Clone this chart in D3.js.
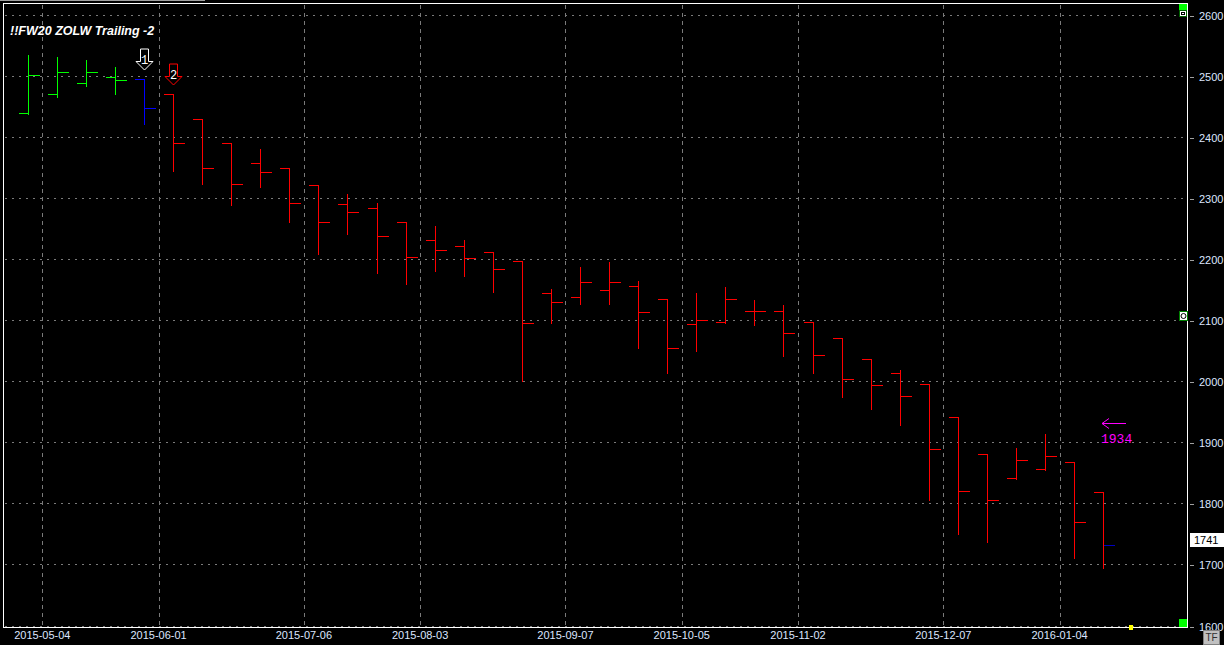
<!DOCTYPE html>
<html>
<head>
<meta charset="utf-8">
<script src="https://cdn.jsdelivr.net/npm/d3@7/dist/d3.min.js"></script>
<style>
  html, body { margin: 0; padding: 0; background: #000; }
  svg { display: block; }
</style>
</head>
<body>
<svg id="chart" width="1224" height="645"></svg>
<script>
// ---------------- DATA ----------------
const title = "!!FW20 ZOLW Trailing -2";
const firstWeek = "2015-04-27";               // week start of first bar
const weekOffsets = d3.range(38);             // 38 consecutive weekly bars
const opens  = [2441,2472,2490,2500,2496,2473,2432,2392,2359,2351,2323,2292,2285,2262,2233,2224,2213,2199,2147,2139,2152,2158,2136,2095,2098,2116,2116,2098,2072,2038,2016,1997,1943,1882,1844,1858,1869,1820];
const highs  = [2538,2535,2530,2518,2496,2473,2432,2392,2384,2351,2323,2310,2295,2262,2258,2235,2213,2199,2155,2191,2199,2168,2136,2148,2158,2136,2128,2098,2072,2038,2021,1997,1943,1882,1894,1917,1869,1820];
const lows   = [2441,2469,2487,2474,2424,2348,2327,2292,2322,2265,2211,2245,2180,2163,2184,2175,2150,2004,2099,2130,2130,2058,2017,2053,2098,2096,2044,2017,1978,1958,1931,1809,1753,1740,1844,1858,1714,1698];
const closes = [2503,2508,2509,2495,2450,2392,2351,2324,2344,2293,2262,2279,2239,2205,2216,2203,2185,2097,2131,2164,2164,2115,2056,2102,2136,2116,2080,2044,2005,1995,1977,1890,1822,1808,1872,1880,1771,1733];
const positions = ["L","L","L","L","X","S","S","S","S","S","S","S","S","S","S","S","S","S","S","S","S","S","S","S","S","S","S","S","S","S","S","S","S","S","S","S","S","S"];
const signalBars = [4, 5];
const signalLabels = ["1", "2"];
const signalKinds = ["exit", "short"];
const dateTicks = ["2015-05-04","2015-06-01","2015-07-06","2015-08-03","2015-09-07","2015-10-05","2015-11-02","2015-12-07","2016-01-04"];
const priceTicks = [1600,1700,1800,1900,2000,2100,2200,2300,2400,2500,2600];
const lastPrice = 1741;
const alertPrice = 1934;

// ---------------- SETUP ----------------
const svg = d3.select("#chart");
const W = 1224, H = 645;
const parse = d3.utcParse("%Y-%m-%d");
const DAY = 86400000;

const x = d3.scaleUtc()
  .domain([parse("2015-05-04"), parse("2016-01-04")])
  .range([42.3, 1059.6]);
const y = d3.scaleLinear().domain([1600, 2600]).range([626.5, 16]);

const plotL = 3.5, plotR = 1187.5, plotT = 3.5, plotB = 627.5;
const colors = { L: "#00ff00", X: "#0000ff", S: "#ff0000" };

svg.append("rect").attr("width", W).attr("height", H).attr("fill", "#000");
// window chrome fragment at top
svg.append("line").attr("x1", 0).attr("x2", 205).attr("y1", 0.5).attr("y2", 0.5)
  .attr("stroke", "#a0a0a0").attr("stroke-width", 1);

const bars = weekOffsets.map(i => {
  const ws = new Date(parse(firstWeek).getTime() + i * 7 * DAY);
  return { i, date: ws, mid: new Date(ws.getTime() + 3.5 * DAY),
    o: opens[i], h: highs[i], l: lows[i], c: closes[i], p: positions[i] };
});

// ---------------- GRID ----------------
const grid = svg.append("g").attr("shape-rendering", "crispEdges");
grid.selectAll("line.h").data(priceTicks).join("line")
  .attr("x1", plotL + 1).attr("x2", plotR)
  .attr("y1", d => Math.round(y(d)) - 0.5).attr("y2", d => Math.round(y(d)) - 0.5)
  .attr("stroke", "#7a7a7a").attr("stroke-dasharray", "2,5");
grid.selectAll("line.v").data(dateTicks).join("line")
  .attr("x1", d => Math.round(x(parse(d))) + 0.5).attr("x2", d => Math.round(x(parse(d))) + 0.5)
  .attr("y1", plotT + 1).attr("y2", plotB)
  .attr("stroke", "#7a7a7a").attr("stroke-dasharray", "4,4");

// ---------------- BARS ----------------
const gb = svg.append("g").attr("shape-rendering", "crispEdges");
const bx = d => Math.round(x(d.mid)) + 0.5;
const py = v => Math.round(y(v)) + 0.5;
gb.selectAll("line.hl").data(bars).join("line")
  .attr("x1", bx).attr("x2", bx)
  .attr("y1", d => py(d.h)).attr("y2", d => py(d.l) + 1)
  .attr("stroke", d => colors[d.p]).attr("stroke-width", 1);
gb.selectAll("line.o").data(bars).join("line")
  .attr("x1", d => bx(d) - 10).attr("x2", bx)
  .attr("y1", d => py(d.o)).attr("y2", d => py(d.o))
  .attr("stroke", d => colors[d.p]).attr("stroke-width", 1);
gb.selectAll("line.c").data(bars).join("line")
  .attr("x1", bx).attr("x2", d => bx(d) + 11)
  .attr("y1", d => py(d.c)).attr("y2", d => py(d.c))
  .attr("stroke", (d, k) => k === bars.length - 1 ? "#0000c0" : colors[d.p]).attr("stroke-width", 1);

// ---------------- SIGNAL ARROWS ----------------
const arrowPath = "M-4,-21 L4,-21 L4,-8.5 L8.5,-8.5 L0,0 L-8.5,-8.5 L-4,-8.5 Z";
signalBars.forEach((bi, k) => {
  const b = bars[bi];
  const g = svg.append("g")
    .attr("transform", `translate(${bx(b)},${Math.round(y(b.h)) - 9})`);
  g.append("path").attr("d", arrowPath)
    .attr("fill", "#000")
    .attr("stroke", signalKinds[k] === "exit" ? "#ffffff" : "#ff0000")
    .attr("stroke-width", 1);
  g.append("text").attr("x", 0).attr("y", -6)
    .attr("text-anchor", "middle")
    .attr("font-family", "Liberation Mono, monospace").attr("font-size", 12)
    .attr("fill", "#fff").text(signalLabels[k]);
});

// ---------------- ALERT ARROW ----------------
const ay = Math.round(y(alertPrice)) + 0.5;
const ag = svg.append("g").attr("stroke", "#ff00ff").attr("fill", "none");
ag.append("line").attr("x1", 1102).attr("x2", 1126).attr("y1", ay).attr("y2", ay);
ag.append("polyline").attr("points", `1109,${ay - 5} 1102,${ay} 1109,${ay + 5}`);
svg.append("text").attr("x", 1101).attr("y", ay + 19)
  .attr("font-family", "Liberation Mono, monospace").attr("font-size", 13)
  .attr("fill", "#ff00ff").text(String(alertPrice));

// ---------------- FRAME ----------------
svg.append("path")
  .attr("d", `M${plotL},${plotT} H${plotR} V${plotB} H${plotL} Z`)
  .attr("fill", "none").attr("stroke", "#ffffff").attr("stroke-width", 1)
  .attr("shape-rendering", "crispEdges");

// ---------------- AXES ----------------
const axisColor = "#dce6ff";
const yAxis = svg.append("g");
yAxis.selectAll("line").data(priceTicks).join("line")
  .attr("x1", 1190).attr("x2", 1194)
  .attr("y1", d => Math.round(y(d)) + 0.5).attr("y2", d => Math.round(y(d)) + 0.5)
  .attr("stroke", "#a0a0a0");
yAxis.selectAll("text").data(priceTicks).join("text")
  .attr("x", 1199).attr("y", d => y(d) + 4)
  .attr("font-family", "Liberation Sans, Arial, sans-serif").attr("font-size", 11)
  .attr("fill", axisColor).text(d => d);

const xAxis = svg.append("g");
xAxis.selectAll("text").data(dateTicks).join("text")
  .attr("x", d => x(parse(d))).attr("y", 639)
  .attr("text-anchor", "middle")
  .attr("font-family", "Liberation Sans, Arial, sans-serif").attr("font-size", 11)
  .attr("fill", axisColor).text(d => d);

// last price label
svg.append("rect").attr("x", 1190).attr("y", Math.round(y(lastPrice)) - 7)
  .attr("width", 34).attr("height", 14).attr("fill", "#ffffff");
svg.append("text").attr("x", 1194).attr("y", Math.round(y(lastPrice)) + 4)
  .attr("font-family", "Liberation Sans, Arial, sans-serif").attr("font-size", 11)
  .attr("fill", "#000").text(lastPrice);

// ---------------- MISC MARKERS ----------------
svg.append("rect").attr("x", 1179).attr("y", 4).attr("width", 8).attr("height", 8).attr("fill", "#00ff00");
svg.append("rect").attr("x", 1179.5).attr("y", 10.5).attr("width", 7).attr("height", 6).attr("fill", "#fff").attr("stroke", "#006000");
svg.append("rect").attr("x", 1181.5).attr("y", 12.5).attr("width", 3).attr("height", 2).attr("fill", "none").attr("stroke", "#000");
svg.append("rect").attr("x", 1179).attr("y", 619).attr("width", 8).attr("height", 8).attr("fill", "#00ff00");
svg.append("rect").attr("x", 1179.5).attr("y", 311.5).attr("width", 8).attr("height", 9).attr("fill", "#fff").attr("stroke", "#008000");
svg.append("circle").attr("cx", 1183.5).attr("cy", 316).attr("r", 2.5).attr("fill", "none").attr("stroke", "#000");
svg.append("rect").attr("x", 1129).attr("y", 625).attr("width", 4).attr("height", 5).attr("fill", "#ffff00");
svg.append("rect").attr("x", 1203.5).attr("y", 630.5).attr("width", 16).attr("height", 14).attr("fill", "#c0c0c0").attr("stroke", "#808080");
svg.append("text").attr("x", 1211.5).attr("y", 641).attr("text-anchor", "middle")
  .attr("font-family", "Liberation Sans, Arial, sans-serif").attr("font-size", 10)
  .attr("fill", "#303030").text("TF");

// ---------------- TITLE ----------------
svg.append("text").attr("x", 10).attr("y", 35)
  .attr("font-family", "Liberation Sans, Arial, sans-serif").attr("font-size", 12.5)
  .attr("font-weight", "bold").attr("font-style", "italic")
  .attr("fill", "#ffffff").text(title);
</script>
</body>
</html>
